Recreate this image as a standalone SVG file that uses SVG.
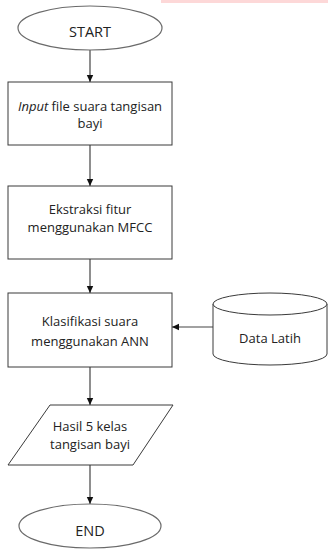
<svg xmlns="http://www.w3.org/2000/svg" width="328" height="549" viewBox="0 0 328 549">
<style>
.shape{fill:#ffffff;stroke:#3a3a3a;stroke-width:1}
.term{fill:#ffffff;stroke:#6a6a6a;stroke-width:1.2}
.txt{font-family:"Open Sans",Lato,"DejaVu Sans",sans-serif;font-size:13px;fill:#222222;text-anchor:middle}
.big{font-size:14.5px}
.conn{stroke:#444444;stroke-width:1.2;fill:none;marker-end:url(#arr)}
</style>
<defs>
<marker id="arr" markerUnits="userSpaceOnUse" markerWidth="8" markerHeight="8" refX="7" refY="4" orient="auto">
<path d="M0,0.8 L7,4 L0,7.2 Z" fill="#111111"/>
</marker>
</defs>
<rect x="161" y="0" width="167" height="3" fill="#fdd8d8"/>
<g id="connectors">
<line class="conn" x1="90" y1="50" x2="90" y2="82"/>
<line class="conn" x1="90" y1="145" x2="90" y2="186"/>
<line class="conn" x1="90" y1="259" x2="90" y2="293"/>
<line class="conn" x1="90" y1="367" x2="90" y2="405"/>
<line class="conn" x1="90" y1="465" x2="90" y2="504"/>
<line class="conn" x1="213" y1="327" x2="172" y2="327"/>
</g>
<g id="start">
<ellipse class="term" cx="90" cy="28" rx="72" ry="22"/>
<text class="txt big" x="90" y="37">START</text>
</g>
<g id="input">
<rect class="shape" x="8" y="82" width="164" height="63"/>
<text class="txt" x="90" y="111"><tspan font-style="italic">Input</tspan> file suara tangisan</text>
<text class="txt" x="90" y="128">bayi</text>
</g>
<g id="ekstraksi">
<rect class="shape" x="8" y="186" width="164" height="73"/>
<text class="txt" x="90" y="214">Ekstraksi fitur</text>
<text class="txt" x="90" y="232">menggunakan MFCC</text>
</g>
<g id="klasifikasi">
<rect class="shape" x="8" y="293" width="164" height="74"/>
<text class="txt" x="90" y="326">Klasifikasi suara</text>
<text class="txt" x="90" y="346">menggunakan ANN</text>
</g>
<g id="datalatih">
<path class="shape" d="M213,304 L213,354 A57,11 0 0 0 327,354 L327,304 A57,11 0 0 0 213,304 Z"/>
<path class="shape" d="M213,304 A57,11 0 0 0 327,304" fill="none"/>
<text class="txt" x="270" y="343">Data Latih</text>
</g>
<g id="hasil">
<polygon class="shape" points="50,405 173,405 133,465 8,465"/>
<text class="txt" x="90" y="431">Hasil 5 kelas</text>
<text class="txt" x="90" y="449">tangisan bayi</text>
</g>
<g id="end">
<ellipse class="term" cx="90" cy="526" rx="71" ry="22"/>
<text class="txt big" x="90" y="536">END</text>
</g>
</svg>
